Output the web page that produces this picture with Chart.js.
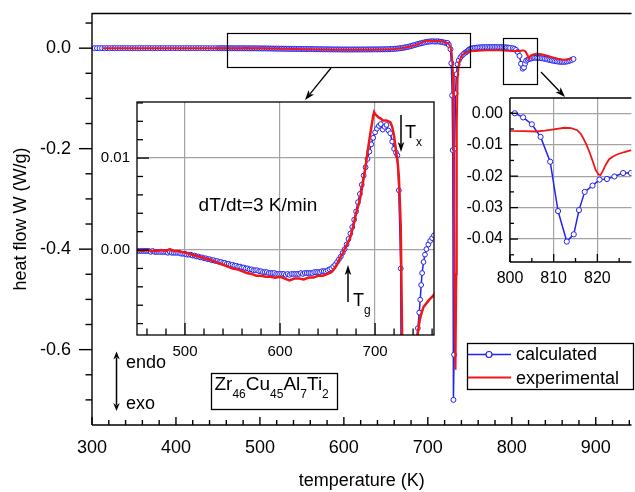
<!DOCTYPE html>
<html><head><meta charset="utf-8">
<script src="https://cdn.jsdelivr.net/npm/chart.js@4/dist/chart.umd.min.js"></script>
<style>
html,body{margin:0;padding:0;background:#fff;overflow:hidden;}
#wrap{position:relative;width:635px;height:492px;overflow:hidden;background:#fff;}
canvas{position:absolute;}
#main{left:0;top:0;width:635px;height:492px;}
#ins1{left:95px;top:95px;width:345px;height:270px;}
#ins2{left:460px;top:90px;width:175px;height:200px;}
</style></head><body>
<div id="wrap">
<canvas id="main" width="635" height="492"></canvas>
<canvas id="ins1" width="345" height="270"></canvas>
<canvas id="ins2" width="175" height="200"></canvas>
</div>
<script>
// ---------- data (temperature in K, heat flow in W/g) ----------
const calcT = [
 303,306,309,312,315,318,321,324,327,330,
 333,336,339,342,345,348,351,354,357,360,
 363,366,369,372,375,378,381,384,387,390,
 393,396,399,402,405,408,411,414,417,420,
 423,426,429,432,435,438,441,444,447,450,
 452,454,456,458,460,462,464,466,468,470,
 472,474,476,478,480,482,484,486,488,490,
 492,494,496,498,500,502,504,506,508,510,
 512,514,516,518,520,522,524,526,528,530,
 532,534,536,538,540,542,544,546,548,550,
 552,554,556,558,560,562,564,566,568,570,
 572,574,576,578,580,582,584,586,588,590,
 592,594,596,598,600,602,604,606,608,610,
 612,614,616,618,620,622,624,626,628,630,
 632,634,636,638,640,642,644,646,648,650,
 652,654,656,658,660,662,664,666,668,670,
 672,674,676,678,680,682,684,686,688,690,
 692,694,696,698,700,
 702,704,706,708,710,712,714,716,718,720,
 722,723.5,725,727,
 728,729,729.7,730.5,731.3,732,733,734,735.5,737,
 739,741,743,745,746.5,747.5,748.5,749.5,751,752.5,
 754,756,758,760,762,
 764,766,768,770,772,774,776,778,780,782,
 784,786,788,790,792,794,796,798,
 801.1,803,805,807,809.2,811,813,814.6,815.8,817.1,
 818.9,820.5,822.2,823.9,825.9,827.7,
 829.5,831.5,833.5,835.5,837.5,839.5,841.5,843.5,845.5,847.5,
 849.5,851.5,853.5,855.5,857.5,859.5,861.5,863.5,865.5,867.5,
 869.5,871.5,873.5
];
const calcW = [
 0,0,0,0,0,0,0,0,0,0,
 0,0,0,0,0,0,0,0,0,0,
 0,0,0,0,0,0,0,0,0,0,
 0,0,0,0,0,0,0,0,0,0,
 0,0,0,0,0,-0.0001,-0.0001,-0.0001,-0.0001,-0.0001,
 -0.0001,-0.0001,-0.0001,-0.0001,-0.0001,-0.0001,-0.0002,-0.0001,-0.0002,-0.0002,
 -0.0002,-0.0002,-0.0002,-0.0002,-0.0002,-0.0003,-0.0002,-0.0003,-0.0003,-0.0003,
 -0.0003,-0.0003,-0.0004,-0.0004,-0.0004,-0.0005,-0.0005,-0.0005,-0.0006,-0.0006,
 -0.0007,-0.0007,-0.0008,-0.0008,-0.0009,-0.0009,-0.0010,-0.0010,-0.0011,-0.0011,
 -0.0012,-0.0012,-0.0013,-0.0013,-0.0014,-0.0014,-0.0015,-0.0015,-0.0016,-0.0016,
 -0.0017,-0.0017,-0.0018,-0.0018,-0.0019,-0.0019,-0.0020,-0.0020,-0.0021,-0.0021,
 -0.0022,-0.0022,-0.0022,-0.0023,-0.0023,-0.0024,-0.0024,-0.0024,-0.0025,-0.0025,
 -0.0025,-0.0025,-0.0026,-0.0026,-0.0026,-0.0026,-0.0026,-0.0027,-0.0026,-0.0027,
 -0.0026,-0.0026,-0.0026,-0.0026,-0.0026,-0.0025,-0.0026,-0.0025,-0.0025,-0.0025,
 -0.0025,-0.0025,-0.0024,-0.0024,-0.0024,-0.0024,-0.0023,-0.0023,-0.0023,-0.0022,
 -0.0021,-0.0020,-0.0018,-0.0016,-0.0013,-0.0010,-0.0007,-0.0003,0.0001,0.0006,
 0.0012,0.0018,0.0025,0.0033,0.0042,0.0052,0.0061,0.0071,0.0081,0.0090,
 0.0099,0.0107,0.0115,0.0122,0.0128,
 0.0132,0.0135,0.0137,0.0131,0.0134,0.0136,0.0130,0.0127,0.0118,0.0110,
 0.0106,0.0103,0.0065,-0.0020,
 -0.030,-0.094,-0.203,-0.700,-0.610,-0.200,-0.090,-0.052,-0.032,-0.024,
 -0.018,-0.014,-0.011,-0.0085,-0.0068,-0.0054,-0.0038,-0.0025,-0.0013,-0.0005,
 0.0001,0.0006,0.0010,0.0013,0.0016,
 0.0018,0.0019,0.0020,0.0021,0.0021,0.0022,0.0022,0.0022,0.0022,0.0022,
 0.0021,0.0021,0.0020,0.0019,0.0017,0.0014,0.0010,0.0004,
 0.0000,-0.0013,-0.0035,-0.0075,-0.0154,-0.0311,-0.0408,-0.0385,-0.0308,-0.0250,
 -0.0230,-0.0211,-0.0209,-0.0201,-0.0190,-0.0190,
 -0.0190,-0.0192,-0.0196,-0.0200,-0.0205,-0.0212,-0.0220,-0.0228,-0.0236,-0.0244,
 -0.0252,-0.0258,-0.0263,-0.0267,-0.0270,-0.0272,-0.0272,-0.0270,-0.0266,-0.0258,
 -0.0247,-0.0232,-0.0215
];
const expT = [
 313,325,340,355,370,385,400,415,430,445,
 450,455,460,465,470,475,480,484,488,492,
 496,500,505,510,515,520,525,530,535,540,
 545,550,555,560,565,570,575,580,585,590,
 595,600,605,610,615,620,625,630,635,640,
 645,
 650,652,654,656,658,660,662,664,666,668,
 670,672,674,676,678,680,682,684,686,688,
 690,692,694,696,698,
 699,700,702,704,706,708,710,712,714,716,
 718,720,722,724,725,726,727,
 728.5,730,731,732,733,734,734.5,735.5,737,739,
 741,743,745,747,749,751,754,757,760,763,
 766,770,775,780,785,790,795,800,803,806,
 808,810,812.5,814,815.4,816.2,816.8,817.5,818.3,819,
 819.6,820.3,820.7,821.2,822,822.7,823.5,824.5,826,827.8,
 830,835,840,845,850,855,860,865,869,871
];
const expW = [
 0,0,0,0,0,0,0,0,0,0,
 0.0000,-0.0001,0.0000,-0.0001,-0.0001,0.0000,-0.0001,0.0001,-0.0001,-0.0001,
 -0.0002,-0.0003,-0.0004,-0.0006,-0.0007,-0.0009,-0.0010,-0.0012,-0.0014,-0.0016,
 -0.0018,-0.0020,-0.0021,-0.0023,-0.0025,-0.0026,-0.0028,-0.0028,-0.0029,-0.0029,
 -0.0030,-0.0029,-0.0031,-0.0033,-0.0031,-0.0031,-0.0032,-0.0030,-0.0030,-0.0028,
 -0.0028,
 -0.0026,-0.0025,-0.0024,-0.0022,-0.0019,-0.0015,-0.0011,-0.0007,-0.0004,0.0001,
 0.0005,0.0009,0.0014,0.0022,0.0030,0.0040,0.0047,0.0055,0.0066,0.0078,
 0.0091,0.0106,0.0120,0.0133,0.0146,
 0.0150,0.0148,0.0146,0.0144,0.0143,0.0141,0.0141,0.0141,0.0140,0.0139,
 0.0134,0.0124,0.0108,0.0093,0.0080,0.0055,0.0025,
 -0.0098,-0.05,-0.25,-0.55,-0.64,-0.45,-0.15,-0.06,-0.03,-0.02,
 -0.014,-0.011,-0.0090,-0.0076,-0.0068,-0.0062,-0.0058,-0.0054,-0.0051,-0.0047,
 -0.0044,-0.0042,-0.0041,-0.0041,-0.0042,-0.0045,-0.0050,-0.0056,-0.0057,-0.0058,
 -0.0055,-0.0051,-0.0046,-0.0047,-0.0054,-0.0065,-0.0080,-0.0100,-0.0127,-0.0155,
 -0.0180,-0.0195,-0.0197,-0.0185,-0.0162,-0.0146,-0.0138,-0.0131,-0.0124,-0.0117,
 -0.0112,-0.0120,-0.0140,-0.0165,-0.0190,-0.0210,-0.0225,-0.0230,-0.0220,-0.0200
];
// tick labels
const mainXTicks = [300,400,500,600,700,800,900];
const mainYTicks = [0.0,-0.2,-0.4,-0.6];
const in1XTicks = [500,600,700];
const in1YTicks = [0.00,0.01];
const in2XTicks = [800,810,820];
const in2YTicks = [0.00,-0.01,-0.02,-0.03,-0.04];
// zoomed regions marked on the main plot (K, W/g)
const zoomBoxes = [
 {t0:460.5, t1:749.6, w0:-0.038, w1:0.0297},
 {t0:789.8, t1:830.4, w0:-0.0719, w1:0.0197}
];

// ---------- drawing ----------
const FONT = "'Liberation Sans', Arial, Helvetica, sans-serif";
Chart.defaults.font.family = FONT;
Chart.defaults.color = '#000';
const BLUE = '#2323f2', RED = '#f21616';

function pts(T, W){ return T.map((t,i)=>({x:t, y:W[i]})); }
function seg(ctx,x1,y1,x2,y2){ ctx.beginPath(); ctx.moveTo(x1,y1); ctx.lineTo(x2,y2); ctx.stroke(); }
function arrow(ctx,x1,y1,x2,y2,hl,hw){
  const a=Math.atan2(y2-y1,x2-x1), c=Math.cos(a), s=Math.sin(a);
  const bx=x2-hl*c, by=y2-hl*s;
  seg(ctx,x1,y1,bx+2*c,by+2*s);
  ctx.beginPath(); ctx.moveTo(x2,y2);
  ctx.lineTo(bx+hw/2*s, by-hw/2*c);
  ctx.lineTo(bx+2.5*c, by+2.5*s);
  ctx.lineTo(bx-hw/2*s, by+hw/2*c);
  ctx.closePath(); ctx.fill();
}
function subText(ctx, parts, x, base, big, small, drop){
  parts.forEach(([s,sub])=>{
    ctx.font=(sub?small:big)+'px '+FONT;
    ctx.fillText(s, x, sub ? base+drop : base);
    x += ctx.measureText(s).width;
  });
}
function scaleCfg(axis, o){
  return {
    type:'linear', min:o.min, max:o.max,
    afterBuildTicks: s => { s.ticks = o.ticks.map(v=>({value:v})); },
    afterFit: s => {
      if(axis==='x') s.height=o.size; else s.width=o.size;
      s.paddingLeft=0; s.paddingRight=0; s.paddingTop=0; s.paddingBottom=0;
    },
    grid:{display:!!o.grid, drawOnChartArea:true, drawTicks:false, color:o.grid||'rgba(0,0,0,0)', lineWidth:1.2},
    border:{display:false},
    ticks:{padding:o.pad, font:{size:o.font}, callback:v=>v.toFixed(o.dec), autoSkip:false, maxRotation:0, minRotation:0, color:'#000'},
    title: o.title ? {display:true, text:o.title, font:{size:18}, padding:o.titlePad, color:'#000'} : {display:false}
  };
}
function makeChart(id, c){
  return new Chart(document.getElementById(id), {
    type:'scatter',
    data:{datasets:[
      {label:'experimental', data:pts(expT,expW), showLine:true, borderColor:RED, backgroundColor:RED,
       borderWidth:c.redW, pointRadius:0, pointHoverRadius:0, order:0},
      {label:'calculated', data:pts(calcT,calcW), showLine:true, borderColor:BLUE, backgroundColor:'#fff',
       borderWidth:1.5, pointRadius:c.ptR, pointBorderWidth:1, pointBorderColor:BLUE, pointBackgroundColor:'#fff',
       pointHoverRadius:0, order:1}
    ]},
    options:{
      responsive:false, animation:false, events:[],
      layout:{padding:c.pad},
      plugins:{legend:{display:false}, tooltip:{enabled:false}},
      scales:{x:scaleCfg('x',c.x), y:scaleCfg('y',c.y)}
    },
    plugins:[{id:'deco_'+id, afterDraw: ch => c.deco(ch, ch.ctx)}]
  });
}

// main plot decorations
function decoMain(ch, ctx){
  const ca=ch.chartArea, xs=ch.scales.x, ys=ch.scales.y;
  ctx.save();
  ctx.strokeStyle='#000'; ctx.fillStyle='#000'; ctx.lineWidth=1.4;
  seg(ctx, ca.left, ca.top+0.5, ca.right, ca.top+0.5);
  seg(ctx, ca.left, ca.top, ca.left, ca.bottom);
  seg(ctx, ca.left, ca.bottom, ca.right, ca.bottom);
  for(let k=1;k>=-14;k--){
    const y=ys.getPixelForValue(k*0.05), L=(k%4===0)?13:6.5;
    seg(ctx, ca.left-L, y, ca.left, y);
  }
  for(let k=15;k<=47;k++){
    const v=k*20; if(v>xs.max) break;
    const x=xs.getPixelForValue(v), L=(v%100===0)?8:5;
    seg(ctx, x, ca.bottom, x, ca.bottom-L);
  }
  ctx.lineWidth=1.2;
  zoomBoxes.forEach(b=>{
    const x0=xs.getPixelForValue(b.t0), x1=xs.getPixelForValue(b.t1);
    const y0=ys.getPixelForValue(b.w1), y1=ys.getPixelForValue(b.w0);
    ctx.strokeRect(Math.round(x0)+0.5, Math.round(y0)+0.5, Math.round(x1-x0), Math.round(y1-y0));
  });
  ctx.lineWidth=1.3;
  arrow(ctx, 331,68, 305,100, 10,7);
  arrow(ctx, 541,72, 565,97, 10,7);
  ctx.lineWidth=1.5;
  arrow(ctx,116.5,381,116.5,351.5,8,6.5);
  arrow(ctx,116.5,381,116.5,411,8,6.5);
  ctx.font='18px '+FONT; ctx.textAlign='left'; ctx.textBaseline='alphabetic';
  ctx.fillText('endo',126,368);
  ctx.fillText('exo',126,408.5);
  ctx.lineWidth=1.3;
  ctx.strokeRect(211.5,373.5,126,36);
  subText(ctx, [['Zr',0],['46',1],['Cu',0],['45',1],['Al',0],['7',1],['Ti',0],['2',1]], 214.5, 389.5, 19, 12, 8.3);
  // legend
  ctx.strokeStyle='#000'; ctx.lineWidth=1.3;
  ctx.strokeRect(467.5,343.5,166,46);
  const dsE=ch.data.datasets[0], dsC=ch.data.datasets[1];
  ctx.strokeStyle=BLUE; ctx.lineWidth=1.5; seg(ctx,468,354.5,511,354.5);
  ctx.beginPath(); ctx.arc(489,354.5,3,0,2*Math.PI); ctx.fillStyle='#fff'; ctx.fill(); ctx.lineWidth=1.2; ctx.stroke();
  ctx.strokeStyle=RED; ctx.lineWidth=2; seg(ctx,468,377.5,511,377.5);
  ctx.fillStyle='#000'; ctx.font='18px '+FONT;
  ctx.fillText(dsC.label,516,360);
  ctx.fillText(dsE.label,516,384);
  ctx.restore();
}
// inset 1 decorations
function decoIn1(ch, ctx){
  const ca=ch.chartArea, xs=ch.scales.x, ys=ch.scales.y, ox=95, oy=95;
  ctx.save();
  ctx.strokeStyle='#000'; ctx.fillStyle='#000'; ctx.lineWidth=1.3;
  ctx.strokeRect(ca.left, ca.top, ca.right-ca.left, ca.bottom-ca.top);
  for(let k=-4;k<=8;k++){
    const y=ys.getPixelForValue(k*0.002), L=(k%5===0)?12:6;
    seg(ctx, ca.left, y, ca.left+L, y);
  }
  for(let k=23;k<=38;k++){
    const v=k*20, x=xs.getPixelForValue(v), L=(v%100===0)?12:6.5;
    seg(ctx, x, ca.bottom, x, ca.bottom-L);
  }
  ctx.font='19px '+FONT; ctx.textAlign='center'; ctx.textBaseline='alphabetic';
  ctx.fillText('dT/dt=3 K/min', 258-ox, 211-oy);
  ctx.textAlign='left';
  ctx.lineWidth=1.5;
  arrow(ctx, 348-ox, 302-oy, 348-ox, 265-oy, 10, 6.5);
  arrow(ctx, 401-ox, 115-oy, 401-ox, 152-oy, 10, 6.5);
  subText(ctx, [['T',0],['g',1]], 353-ox, 305.5-oy, 18, 12, 8);
  subText(ctx, [['T',0],['x',1]], 405-ox, 137.5-oy, 18, 12, 8);
  ctx.restore();
}
// inset 2 decorations
function decoIn2(ch, ctx){
  const ca=ch.chartArea, xs=ch.scales.x, ys=ch.scales.y;
  ctx.save();
  ctx.strokeStyle='#000'; ctx.lineWidth=1.3;
  seg(ctx, ca.left, ca.top, ca.right, ca.top);
  seg(ctx, ca.left, ca.top, ca.left, ca.bottom);
  seg(ctx, ca.left, ca.bottom, ca.right, ca.bottom);
  for(let k=0;k>=-9;k--){
    const y=ys.getPixelForValue(k*0.005), L=(k%2===0)?8:4;
    seg(ctx, ca.left, y, ca.left+L, y);
  }
  for(let k=160;k<=165;k++){
    const v=k*5, x=xs.getPixelForValue(v), L=(v%10===0)?8:4;
    seg(ctx, x, ca.bottom, x, ca.bottom-L);
  }
  ctx.restore();
}

makeChart('main', {
  pad:{top:13,right:0,left:0,bottom:0}, redW:2, ptR:2.5, deco:decoMain,
  x:{min:300,max:942.6,ticks:mainXTicks,size:67,pad:12,font:18,dec:0,title:'temperature (K)',titlePad:{top:0,bottom:0}},
  y:{min:-0.75,max:0.07,ticks:mainYTicks,size:92,pad:21,font:18,dec:1,title:'heat flow W (W/g)',titlePad:{top:10,bottom:0}}
});
makeChart('ins1', {
  pad:{top:7,right:6,left:0,bottom:0}, redW:2.5, ptR:2.4, deco:decoIn1,
  x:{min:449.5,max:762,ticks:in1XTicks,size:30,pad:7.5,font:15,dec:0,grid:'#a3a3a3'},
  y:{min:-0.00924,max:0.0161,ticks:in1YTicks,size:42,pad:7,font:15,dec:2,grid:'#a3a3a3'}
});
makeChart('ins2', {
  pad:{top:8,right:0,left:0,bottom:0}, redW:1.8, ptR:2.6, deco:decoIn2,
  x:{min:800,max:827.8,ticks:in2XTicks,size:28,pad:6.6,font:16,dec:0,grid:'#a3a3a3'},
  y:{min:-0.0473,max:0.00486,ticks:in2YTicks,size:50,pad:7,font:16,dec:2,grid:'#a3a3a3'}
});
</script>
</body></html>
